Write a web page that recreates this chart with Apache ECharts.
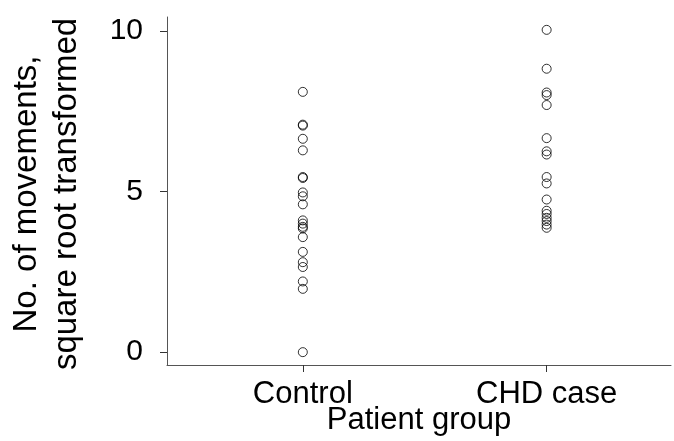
<!DOCTYPE html>
<html>
<head>
<meta charset="utf-8">
<script src="https://cdn.jsdelivr.net/npm/echarts@6/dist/echarts.min.js"></script>
<style>
  html, body { margin: 0; padding: 0; background: #fff; }
  #chart { width: 674px; height: 441px; }
</style>
</head>
<body>
<div id="chart"></div>
<script>
const groups = ['Control', 'CHD case'];
const controlValues = [8.1, 7.08, 7.05, 6.64, 6.28, 5.45, 5.42, 4.97, 4.85, 4.6, 4.1, 4.0, 3.9, 3.85, 3.58, 3.12, 2.8, 2.65, 2.2, 1.97, 0];
const chdValues = [10.03, 8.82, 8.08, 8.0, 7.69, 6.66, 6.25, 6.15, 5.45, 5.25, 4.75, 4.4, 4.3, 4.18, 4.08, 3.97, 3.87];
const yTicks = [0, 5, 10];

const fontFamily = 'Liberation Sans, Arial, Helvetica, sans-serif';

const chartDom = document.getElementById('chart');
const myChart = echarts.init(chartDom);

function toPoints(pos, values) {
  return values.map(function (v) { return [pos, v]; });
}

const markerStyle = {
  type: 'scatter',
  symbol: 'circle',
  symbolSize: 9,
  itemStyle: { color: 'rgba(0,0,0,0)', borderColor: '#000', borderWidth: 1 },
  silent: true
};

let option = {
  animation: false,
  backgroundColor: '#fff',
  grid: { left: 167, right: 3, top: 17, bottom: 76, containLabel: false, outerBoundsMode: 'none' },
  xAxis: {
    type: 'value',
    min: 0.443,
    max: 2.51,
    name: 'Patient group',
    nameLocation: 'middle',
    nameGap: 40,
    nameMoveOverlap: false,
    nameTextStyle: { color: '#000', fontSize: 31, fontFamily: fontFamily },
    splitLine: { show: false },
    axisLine: { show: true, onZero: false, lineStyle: { color: '#555', width: 1 } },
    axisTick: { show: true, customValues: [1, 2], length: 7, lineStyle: { color: '#333' } },
    axisLabel: {
      customValues: [1, 2],
      margin: 14,
      color: '#000',
      fontSize: 31,
      fontFamily: fontFamily,
      formatter: function (v) { return groups[Math.round(v) - 1]; }
    }
  },
  yAxis: {
    type: 'value',
    min: -0.4,
    max: 10.43,
    splitLine: { show: false },
    axisLine: { show: true, onZero: false, lineStyle: { color: '#555', width: 1 } },
    axisTick: { show: true, customValues: yTicks, length: 7, lineStyle: { color: '#333' } },
    axisLabel: {
      customValues: yTicks,
      margin: 24,
      color: '#000',
      fontSize: 30,
      fontFamily: fontFamily
    }
  },
  graphic: [{
    type: 'text',
    x: 47,
    y: 194,
    rotation: Math.PI / 2,
    style: {
      text: 'No. of movements,\nsquare root transformed',
      fill: '#000',
      font: '33px ' + fontFamily,
      align: 'center',
      verticalAlign: 'middle',
      lineHeight: 40
    }
  }],
  series: [
    Object.assign({ name: groups[0], data: toPoints(1, controlValues) }, markerStyle),
    Object.assign({ name: groups[1], data: toPoints(2, chdValues) }, markerStyle)
  ]
};
myChart.setOption(option);
</script>
</body>
</html>
